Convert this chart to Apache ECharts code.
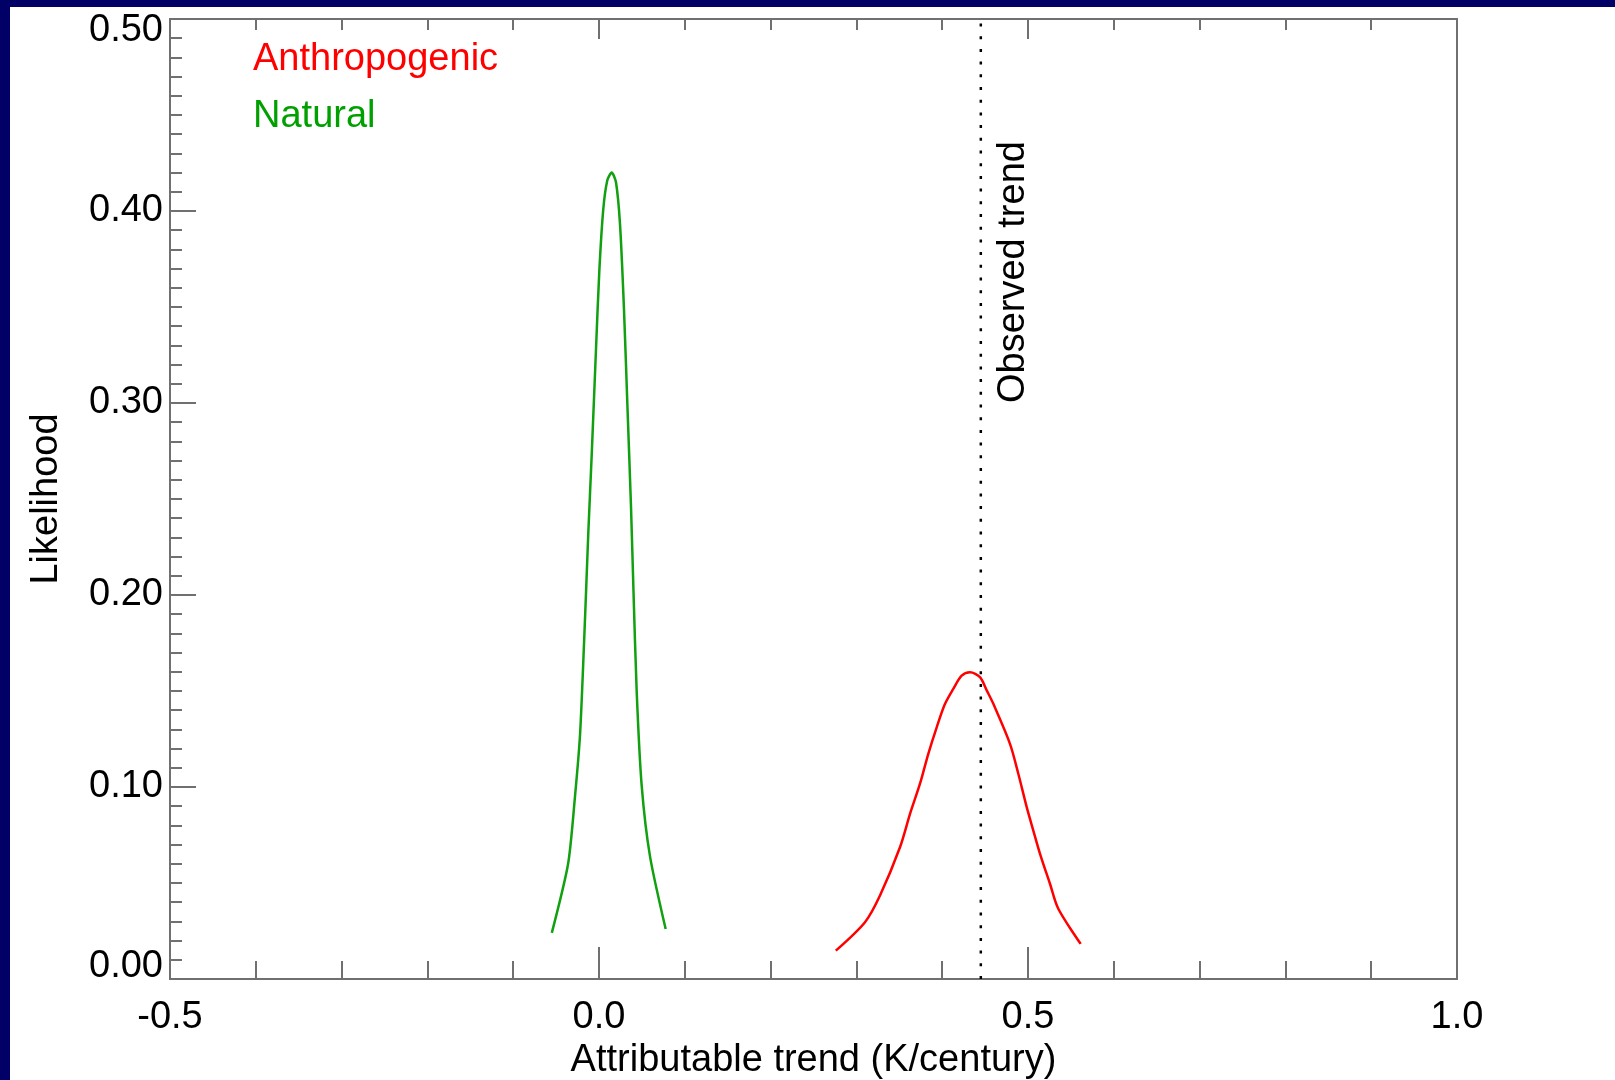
<!DOCTYPE html>
<html>
<head>
<meta charset="utf-8">
<title>Attributable trend likelihood</title>
<script src="https://cdn.jsdelivr.net/npm/echarts@6/dist/echarts.min.js"></script>
<style>
  html, body { margin: 0; padding: 0; background: #fff; }
  #chart { width: 1615px; height: 1080px; }
  .edge { position: absolute; background: #000066; }
</style>
</head>
<body>
<div id="chart"></div>
<div class="edge" style="left:0;top:0;width:1615px;height:7px"></div>
<div class="edge" style="left:0;top:0;width:10px;height:1080px"></div>
<script>
// natural forcing likelihood curve
const natX = [-0.055, -0.036, -0.028, -0.022, -0.016, -0.0125, -0.0085, -0.0035, 0.0004, 0.005, 0.0097,
  0.0148, 0.0198, 0.0245, 0.0291, 0.033, 0.0373, 0.040, 0.0439, 0.0497, 0.0594, 0.0777];
const natY = [0.024, 0.060, 0.095, 0.128, 0.191, 0.232, 0.273, 0.328, 0.369, 0.401, 0.416,
  0.420, 0.415, 0.393, 0.349, 0.300, 0.246, 0.205, 0.150, 0.101, 0.064, 0.026];

// anthropogenic forcing likelihood curve
const anthX = [0.276, 0.310, 0.3275, 0.3508, 0.3625, 0.3741, 0.3838, 0.3936, 0.4033, 0.4129, 0.4227, 0.4324,
  0.444, 0.4519, 0.4596, 0.479, 0.4887, 0.4985, 0.5062, 0.514, 0.5256, 0.5353, 0.5614];
const anthY = [0.0148, 0.0296, 0.0435, 0.0686, 0.086, 0.1017, 0.1173, 0.1311, 0.1433, 0.1511, 0.158, 0.1598,
  0.1572, 0.1503, 0.1433, 0.1225, 0.1069, 0.0895, 0.0773, 0.0652, 0.0496, 0.0366, 0.0183];

// observed trend marker
const obsTrend = 0.445;
const obsLineY = [0, 0.5];
const obsLabelY = 0.30;

const xTickLabels = ['-0.5', '0.0', '0.5', '1.0'];
const yTickLabels = ['0.00', '0.10', '0.20', '0.30', '0.40', '0.50'];

const pair = (xs, ys) => xs.map((x, i) => [x, ys[i]]);

const FONT = '"Liberation Sans", Arial, Helvetica, sans-serif';
const AXIS = '#707070';

const myChart = echarts.init(document.getElementById('chart'));

const option = {
  animation: false,
  backgroundColor: '#fff',
  textStyle: { fontFamily: FONT },
  grid: {
    left: 170, right: 158, top: 19, bottom: 101,
    show: true, borderColor: AXIS, borderWidth: 2,
    outerBoundsMode: 'none'
  },
  legend: {
    orient: 'vertical',
    left: 243,
    top: 36,
    itemWidth: 0,
    itemHeight: 0,
    itemGap: 19,
    icon: 'rect',
    selectedMode: false,
    itemStyle: { opacity: 0 },
    lineStyle: { opacity: 0 },
    textStyle: { fontSize: 38, lineHeight: 38, fontFamily: FONT },
    data: [
      { name: 'Anthropogenic', textStyle: { color: '#ff0000' } },
      { name: 'Natural', textStyle: { color: '#00a000' } }
    ]
  },
  xAxis: [
    {
      type: 'value',
      position: 'bottom',
      min: -0.5, max: 1.0, interval: 0.5,
      axisLine: { show: true, onZero: false, lineStyle: { color: AXIS, width: 2 } },
      axisTick: { show: true, inside: true, length: 32, lineStyle: { color: AXIS, width: 2 } },
      minorTick: { show: true, splitNumber: 5, length: 18, lineStyle: { color: AXIS, width: 2 } },
      splitLine: { show: false },
      minorSplitLine: { show: false },
      axisLabel: {
        fontSize: 38, color: '#000', margin: 20, fontFamily: FONT,
        showMinLabel: true, showMaxLabel: true,
        formatter: v => xTickLabels[Math.round((v + 0.5) / 0.5)]
      },
      name: 'Attributable trend (K/century)',
      nameLocation: 'middle',
      nameGap: 56,
      nameTextStyle: { fontSize: 38, color: '#000', fontFamily: FONT }
    },
    {
      type: 'value',
      position: 'top',
      min: -0.5, max: 1.0, interval: 0.5,
      axisLine: { show: true, onZero: false, lineStyle: { color: AXIS, width: 2 } },
      axisTick: { show: true, inside: true, length: 20, lineStyle: { color: AXIS, width: 2 } },
      minorTick: { show: true, splitNumber: 5, length: 11, lineStyle: { color: AXIS, width: 2 } },
      splitLine: { show: false },
      axisLabel: { show: false }
    }
  ],
  yAxis: {
    type: 'value',
    min: 0, max: 0.5, interval: 0.1,
    axisLine: { show: true, onZero: false, lineStyle: { color: AXIS, width: 2 } },
    axisTick: { show: true, inside: true, length: 26, lineStyle: { color: AXIS, width: 2 } },
    minorTick: { show: true, splitNumber: 10, length: 12, lineStyle: { color: AXIS, width: 2 } },
    splitLine: { show: false },
    minorSplitLine: { show: false },
    axisLabel: {
      fontSize: 38, color: '#000', margin: 7, fontFamily: FONT,
      showMinLabel: true, showMaxLabel: true,
      formatter: v => {
        const s = yTickLabels[Math.round(v * 10)];
        if (Math.abs(v - 0.5) < 1e-9) return '{hi|' + s + '}';
        if (Math.abs(v) < 1e-9) return '{lo|' + s + '}';
        return s;
      },
      rich: {
        hi: { fontSize: 38, color: '#000', fontFamily: FONT, padding: [24, 0, 0, 0] },
        lo: { fontSize: 38, color: '#000', fontFamily: FONT, padding: [0, 0, 25, 0] }
      }
    },
    name: 'Likelihood',
    nameLocation: 'middle',
    nameRotate: 90,
    nameGap: 104,
    nameTextStyle: { fontSize: 38, color: '#000', fontFamily: FONT }
  },
  series: [
    {
      name: 'Anthropogenic',
      type: 'line',
      data: pair(anthX, anthY),
      symbol: 'none',
      showSymbol: false,
      smooth: 0.3,
      lineStyle: { color: '#ff0000', width: 2.5 },
      itemStyle: { color: '#ff0000' }
    },
    {
      name: 'Natural',
      type: 'line',
      data: pair(natX, natY),
      symbol: 'none',
      showSymbol: false,
      smooth: 0.25,
      lineStyle: { color: '#10a010', width: 2.5 },
      itemStyle: { color: '#00a000' }
    },
    {
      name: 'Observed line',
      type: 'line',
      data: obsLineY.map(y => [obsTrend, y]),
      symbol: 'none',
      showSymbol: false,
      silent: true,
      lineStyle: { type: [3, 9.7], color: '#000', width: 2.5 }
    },
    {
      name: 'Observed trend',
      type: 'scatter',
      data: [[obsTrend, obsLabelY]],
      symbolSize: 0,
      silent: true,
      itemStyle: { opacity: 1, color: '#000' },
      label: {
        show: true,
        formatter: 'Observed trend',
        position: [33, 0],
        rotate: 90,
        align: 'left',
        verticalAlign: 'middle',
        fontSize: 38,
        color: '#000',
        opacity: 1,
        fontFamily: FONT
      }
    }
  ]
};

myChart.setOption(option);
</script>
</body>
</html>
